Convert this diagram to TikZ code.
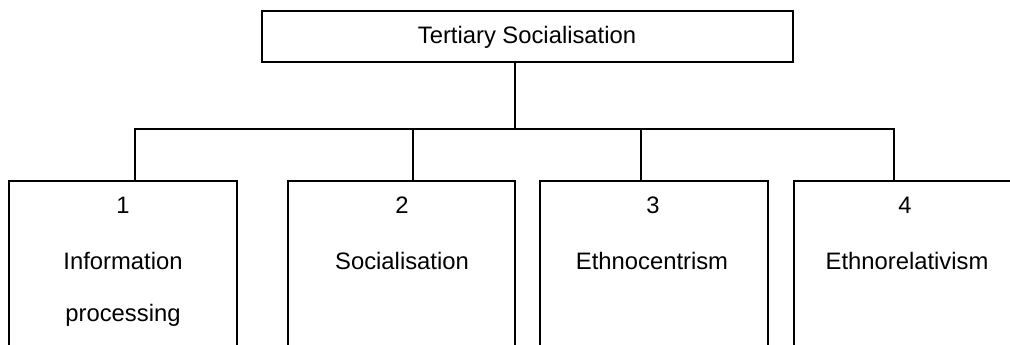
\documentclass[tikz,border=0pt]{standalone}
\usepackage{fontspec}
\setmainfont{Liberation Sans}
\begin{document}
\begin{tikzpicture}[x=1pt,y=-1pt,
  boxstyle/.style={draw=black,line width=2.2pt,rectangle,inner sep=0pt},
  linkstyle/.style={draw=black,line width=2.2pt},
  label/.style={font=\fontsize{23.8}{28}\selectfont,anchor=base,inner sep=0pt}]
\clip (0,0) rectangle (1010,345);
\fill[white] (0,0) rectangle (1010,345);
% top box
\node[boxstyle,minimum width=531pt,minimum height=51pt] (top) at (527.5,36.5) {};
\node[label] (ttop) at (527,44) {Tertiary Socialisation};
% child boxes (bottoms and right edge of the last one run past the picture)
\node[boxstyle,anchor=north west,minimum width=228pt,minimum height=200pt] (b1) at (8,180) {};
\node[boxstyle,anchor=north west,minimum width=227pt,minimum height=200pt] (b2) at (287,180) {};
\node[boxstyle,anchor=north west,minimum width=228pt,minimum height=200pt] (b3) at (539,180) {};
\node[boxstyle,anchor=north west,minimum width=228pt,minimum height=200pt] (b4) at (793,180) {};
% connector points
\coordinate (hub) at (515,129);
\coordinate (d1) at (135,129);
\coordinate (d2) at (413,129);
\coordinate (d3) at (641,129);
\coordinate (d4) at (894,129);
\draw[linkstyle] (top.south -| hub) -- (hub);
\draw[linkstyle] (d1 |- b1.north) -- (d1) -- (d4) -- (d4 |- b4.north);
\draw[linkstyle] (d2) -- (d2 |- b2.north);
\draw[linkstyle] (d3) -- (d3 |- b3.north);
% texts
\node[label] (n1) at (123,213) {1};
\node[label] (t1a) at (123,269) {Information};
\node[label] (t1b) at (123,321) {processing};
\node[label] (n2) at (402,213) {2};
\node[label] (t2) at (402,269) {Socialisation};
\node[label] (n3) at (653,213) {3};
\node[label] (t3) at (652,269) {Ethnocentrism};
\node[label] (n4) at (905,213) {4};
\node[label] (t4) at (907,269) {Ethnorelativism};
\end{tikzpicture}
\end{document}
